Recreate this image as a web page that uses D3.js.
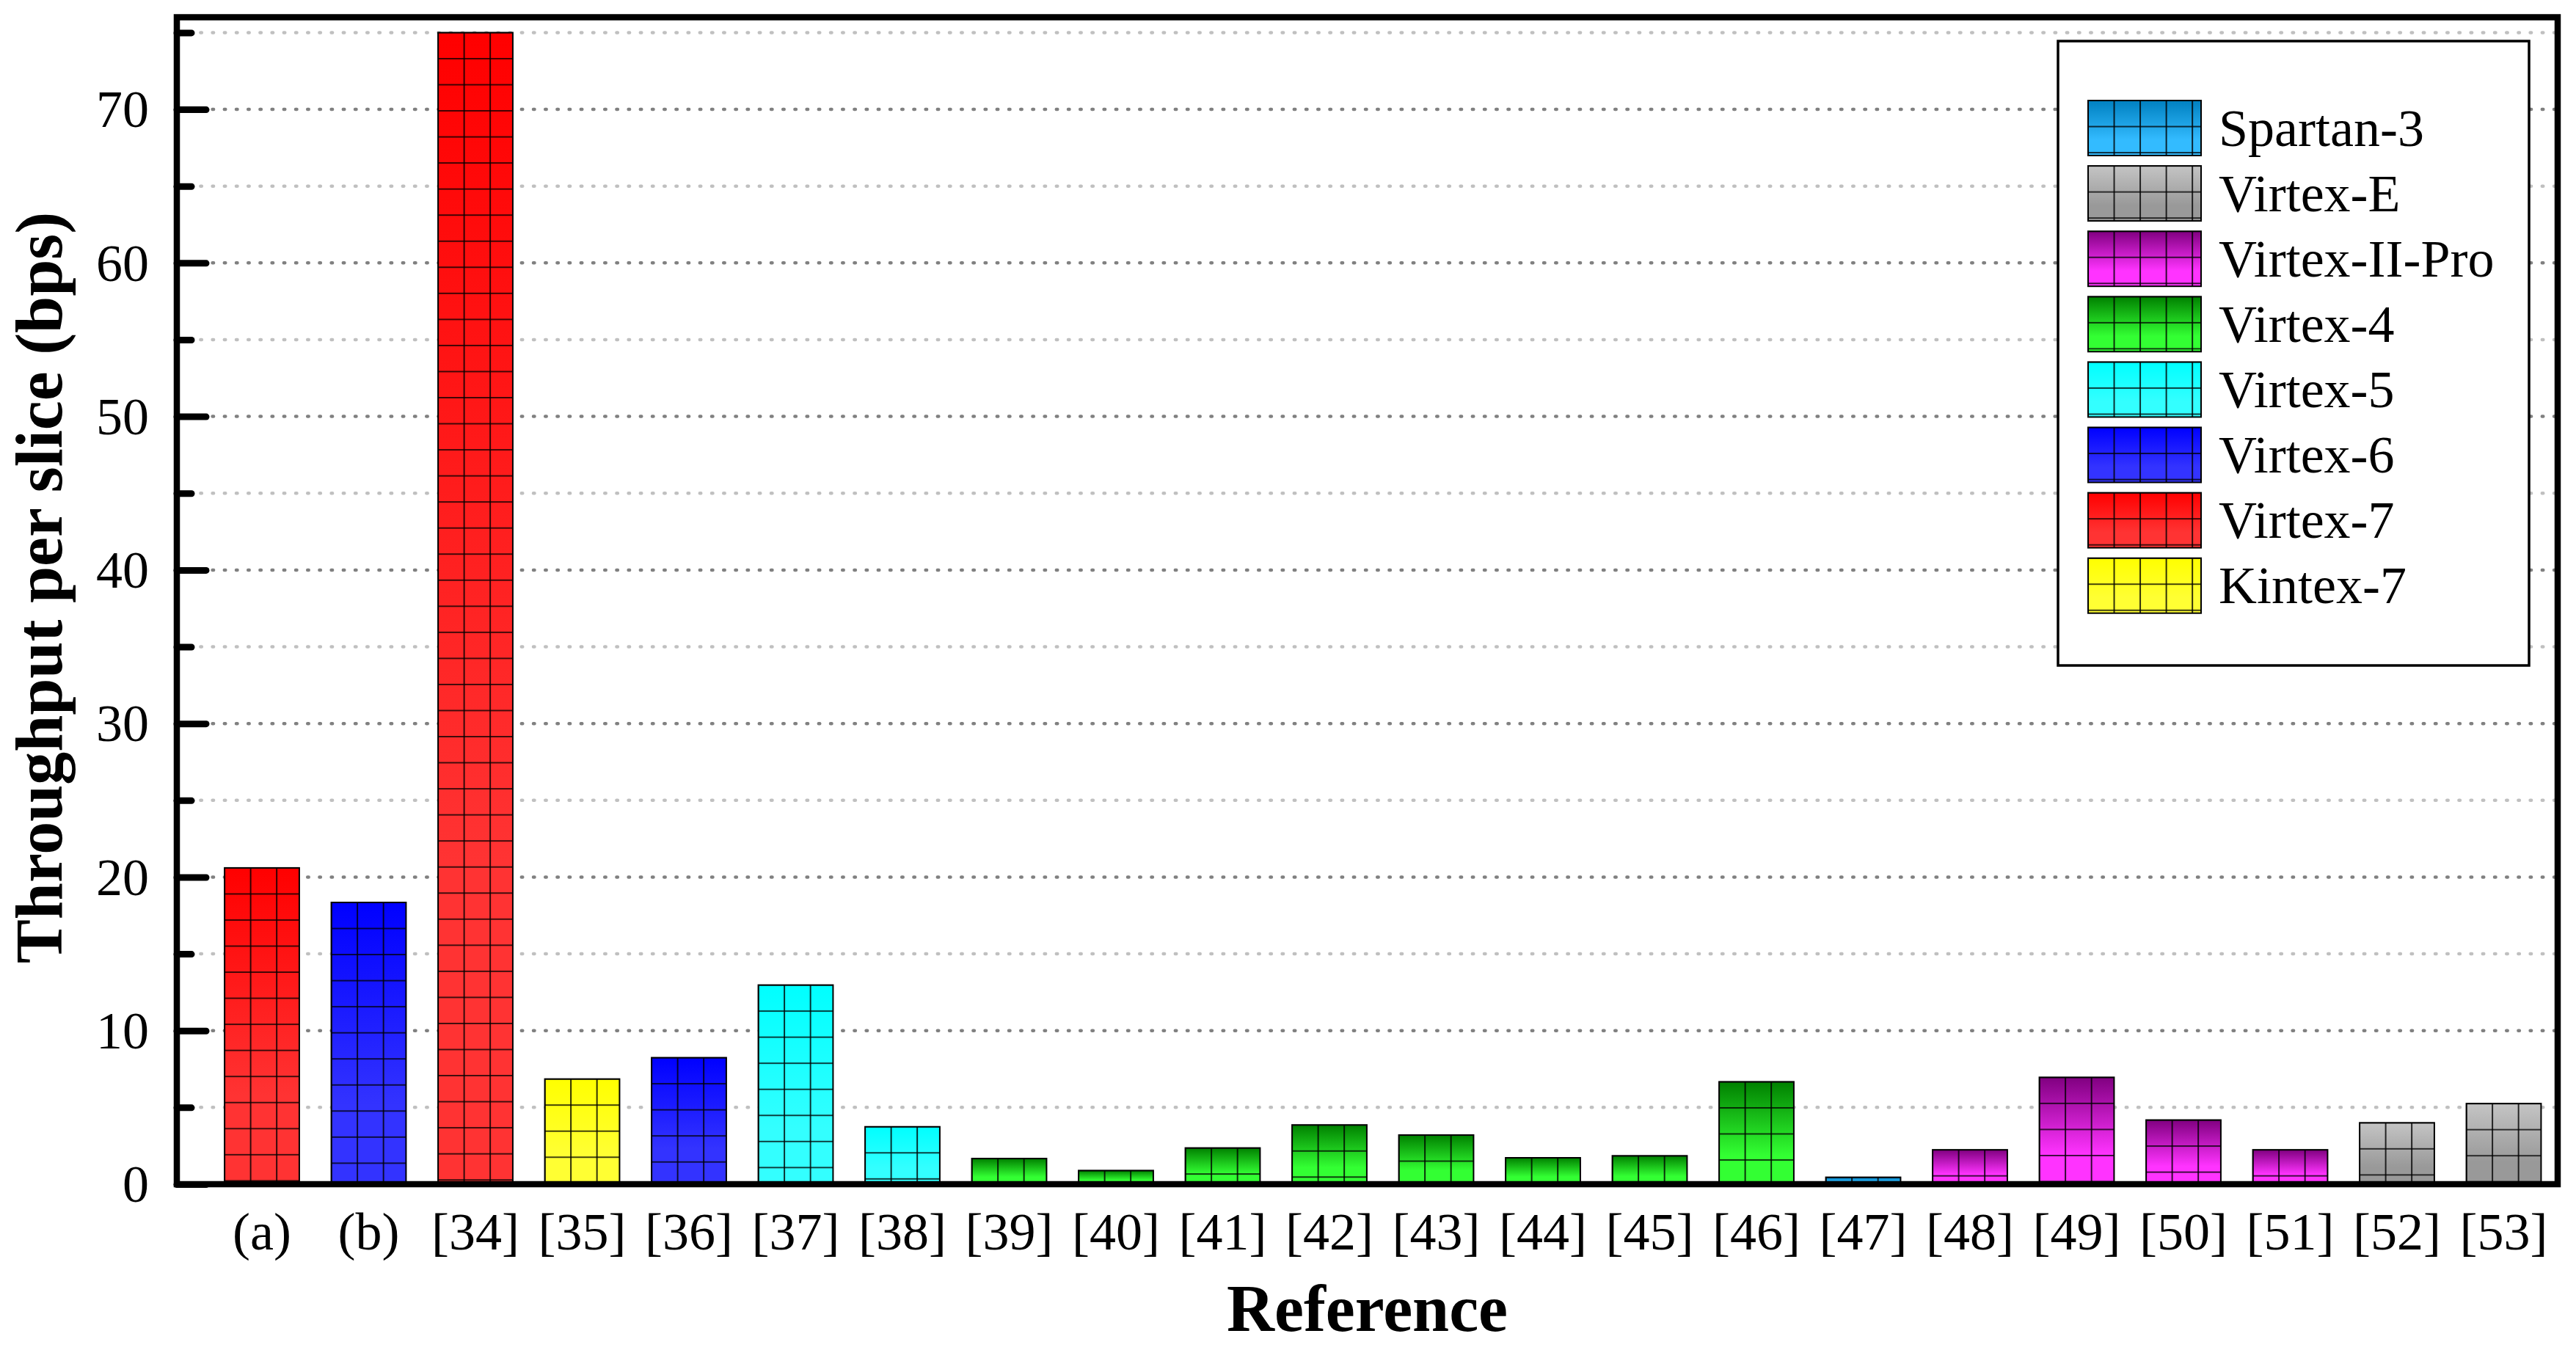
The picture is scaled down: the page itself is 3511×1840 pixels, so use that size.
<!DOCTYPE html>
<html><head><meta charset="utf-8">
<script src="https://cdn.jsdelivr.net/npm/d3@7"></script>
<style>html,body{margin:0;padding:0;background:#fff;} svg{display:block;}</style>
</head><body>
<script>
// ---------------- data ----------------
const categories = ["(a)","(b)","[34]","[35]","[36]","[37]","[38]","[39]","[40]","[41]","[42]","[43]","[44]","[45]","[46]","[47]","[48]","[49]","[50]","[51]","[52]","[53]"];
const values = [20.6, 18.35, 75, 6.85, 8.24, 12.97, 3.74, 1.67, 0.89, 2.36, 3.86, 3.2, 1.72, 1.85, 6.67, 0.45, 2.24, 6.96, 4.18, 2.24, 4.0, 5.25];
const barFamily = ["Virtex-7","Virtex-6","Virtex-7","Kintex-7","Virtex-6","Virtex-5","Virtex-5","Virtex-4","Virtex-4","Virtex-4","Virtex-4","Virtex-4","Virtex-4","Virtex-4","Virtex-4","Spartan-3","Virtex-II-Pro","Virtex-II-Pro","Virtex-II-Pro","Virtex-II-Pro","Virtex-E","Virtex-E"];
const legendFamilies = ["Spartan-3","Virtex-E","Virtex-II-Pro","Virtex-4","Virtex-5","Virtex-6","Virtex-7","Kintex-7"];
const familyTop    = ["#0080c0","#c4c4c4","#800080","#008000","#00ffff","#0000ff","#ff0000","#ffff00"];
const familyBottom = ["#33bbff","#999999","#ff33ff","#33ff33","#33ffff","#3333ff","#ff3333","#ffff33"];
const yMajorTicks = [0,10,20,30,40,50,60,70];
const yMinorTicks = [5,15,25,35,45,55,65,75];
const gridValues = [5,10,15,20,25,30,35,40,45,50,55,60,65,70,75];
const xTitle = "Reference";
const yTitle = "Throughput per slice (bps)";

// ---------------- layout ----------------
const W = 3511, H = 1840;
const M = {left: 241, right: 3486, top: 23.5, bottom: 1614};
const font = "'Liberation Serif','Times New Roman',Times,serif";
const CELL = 35.54;

const svg = d3.select("body").append("svg").attr("width", W).attr("height", H);
svg.append("rect").attr("width", W).attr("height", H).attr("fill", "#fff");

const x = d3.scaleBand().domain(categories).range([284.25, 3485.25]).paddingInner(0.3).paddingOuter(0.15);
const y = d3.scaleLinear().domain([0, 76]).range([M.bottom, M.top]);

const defs = svg.append("defs");
legendFamilies.forEach((f, i) => {
  const g = defs.append("linearGradient").attr("id", "grad" + i)
    .attr("x1", 0).attr("y1", 0).attr("x2", 0).attr("y2", 1);
  g.append("stop").attr("offset", "0%").attr("stop-color", familyTop[i]);
  g.append("stop").attr("offset", "72%").attr("stop-color", familyBottom[i]);
  g.append("stop").attr("offset", "100%").attr("stop-color", familyBottom[i]);
});
function makeGridPattern(id, ox, oy) {
  const p = defs.append("pattern").attr("id", id).attr("patternUnits", "userSpaceOnUse")
    .attr("x", ox).attr("y", oy).attr("width", CELL).attr("height", CELL);
  p.append("path").attr("d", `M0,0H${CELL}V${CELL}H0Z`).attr("fill", "none")
    .attr("stroke", "#000").attr("stroke-width", 1.6);
}
const famIdx = f => legendFamilies.indexOf(f);

// ---------------- grid ----------------
svg.append("g").selectAll("line").data(gridValues).join("line")
  .attr("x1", M.left).attr("x2", M.right)
  .attr("y1", d => y(d)).attr("y2", d => y(d))
  .attr("stroke", d => d % 10 === 0 ? "#808080" : "#c0c0c0")
  .attr("stroke-width", 4.5).attr("stroke-linecap", "round")
  .attr("stroke-dasharray", "1.5 14.7");

// ---------------- bars ----------------
const data = categories.map((c, i) => ({cat: c, value: values[i], family: barFamily[i], i}));
data.forEach(d => makeGridPattern("bp" + d.i, x(d.cat), y(d.value)));
const bars = svg.append("g");
bars.selectAll("rect.bfill").data(data).join("rect").attr("class", "bfill")
  .attr("x", d => x(d.cat)).attr("y", d => y(d.value))
  .attr("width", x.bandwidth()).attr("height", d => y(0) - y(d.value))
  .attr("fill", d => `url(#grad${famIdx(d.family)})`);
bars.selectAll("rect.bgrid").data(data).join("rect").attr("class", "bgrid")
  .attr("x", d => x(d.cat)).attr("y", d => y(d.value))
  .attr("width", x.bandwidth()).attr("height", d => y(0) - y(d.value))
  .attr("fill", d => `url(#bp${d.i})`).attr("stroke", "#000").attr("stroke-width", 2);

// ---------------- axes ----------------
const yAxis = svg.append("g").attr("transform", `translate(${M.left},0)`)
  .call(d3.axisLeft(y).tickValues(yMajorTicks).tickSize(-40).tickPadding(38));
yAxis.select(".domain").remove();
yAxis.selectAll("line").attr("stroke", "#000").attr("stroke-width", 9).attr("stroke-linecap", "round");
yAxis.selectAll("text").attr("font-family", font).attr("font-size", 72).attr("fill", "#000").attr("dy", "0.33em");

const yMinor = svg.append("g").attr("transform", `translate(${M.left},0)`)
  .call(d3.axisLeft(y).tickValues(yMinorTicks).tickSize(-20).tickFormat(""));
yMinor.select(".domain").remove();
yMinor.selectAll("line").attr("stroke", "#000").attr("stroke-width", 9).attr("stroke-linecap", "round");

const xAxis = svg.append("g").attr("transform", `translate(0,${M.bottom})`)
  .call(d3.axisBottom(x).tickSize(0));
xAxis.select(".domain").remove();
xAxis.selectAll("text").attr("font-family", font).attr("font-size", 72).attr("fill", "#000")
  .attr("y", 89).attr("dy", 0);

// frame
svg.append("rect").attr("x", M.left).attr("y", M.top)
  .attr("width", M.right - M.left).attr("height", M.bottom - M.top)
  .attr("fill", "none").attr("stroke", "#000").attr("stroke-width", 8.5);

// titles
svg.append("text").attr("x", (M.left + M.right) / 2).attr("y", 1814)
  .attr("text-anchor", "middle").attr("font-family", font).attr("font-weight", "bold")
  .attr("font-size", 90).text(xTitle);
svg.append("text").attr("transform", "translate(84,801) rotate(-90)")
  .attr("text-anchor", "middle").attr("font-family", font).attr("font-weight", "bold")
  .attr("font-size", 90).text(yTitle);

// ---------------- legend ----------------
const lg = svg.append("g");
lg.append("rect").attr("x", 2805).attr("y", 56).attr("width", 642).attr("height", 851)
  .attr("fill", "#fff").attr("stroke", "#000").attr("stroke-width", 3.5);
const swX = 2846, swW = 154, swH = 75, sw0 = 137, swStep = 89.1;
legendFamilies.forEach((f, i) => makeGridPattern("lp" + i, swX, sw0 + i * swStep));
const rows = lg.selectAll("g.row").data(legendFamilies).join("g").attr("class", "row");
rows.append("rect").attr("x", swX).attr("y", (d, i) => sw0 + i * swStep)
  .attr("width", swW).attr("height", swH).attr("fill", (d, i) => `url(#grad${i})`);
rows.append("rect").attr("x", swX).attr("y", (d, i) => sw0 + i * swStep)
  .attr("width", swW).attr("height", swH).attr("fill", (d, i) => `url(#lp${i})`)
  .attr("stroke", "#000").attr("stroke-width", 2);
rows.append("text").attr("x", 3024).attr("y", (d, i) => sw0 + i * swStep + swH / 2 + 24)
  .attr("font-family", font).attr("font-size", 72).attr("fill", "#000").text(d => d);
</script>
</body></html>
